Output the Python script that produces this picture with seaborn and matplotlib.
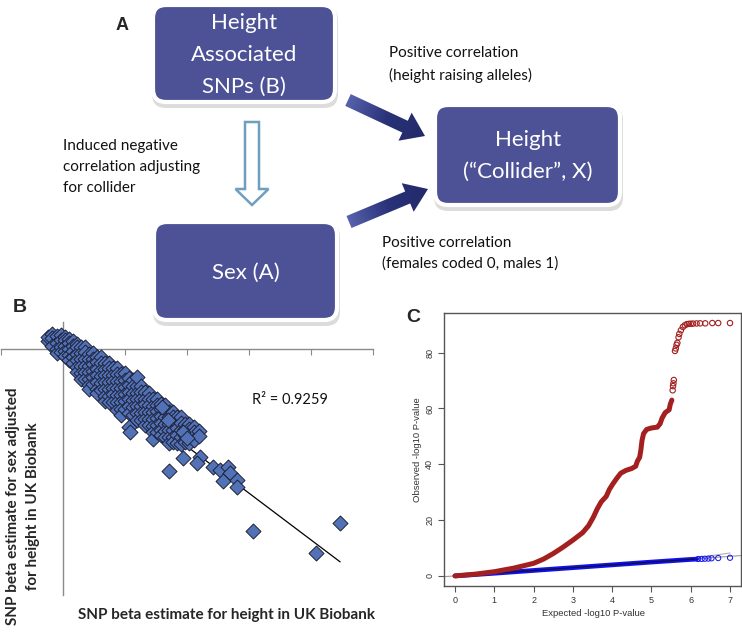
import numpy as np
import matplotlib
matplotlib.use("Agg")
import matplotlib.pyplot as plt
import seaborn as sns
from matplotlib.patches import FancyBboxPatch, FancyArrow
from matplotlib.colors import LinearSegmentedColormap

# ---------------- data ----------------
# Panel B: SNP beta estimates (units of 0.001)
band_x = [-2.4, -1.8, -1.0, -0.3, 0.3, 1.0, 1.6, 2.3, 2.9, 3.5, 4.2, 4.8, 5.5, 6.1, 6.8,
          7.4, 8.1, 8.7, 9.4, 10.0, 10.6, 11.3, 11.9, 12.6, 13.2, 13.9, 14.5, 15.2, 15.8,
          16.5, 17.1, 17.7, 18.4, 19.0, 19.7, 20.3, 21.1, 21.9]
band_y = [[1.3, 2.0], [2.4, 1.8, 0.6], [2.1, 1.0, 0.0, -0.6], [2.3, 1.5, 0.3, -0.5],
          [2.0, 1.5, 0.6, -0.3, -1.1], [1.6, 1.0, 0.0, -1.0, -1.8],
          [1.3, 0.6, -0.3, -1.3, -2.3], [0.9, 0.3, -0.8, -1.8, -2.9, -3.6],
          [0.3, -0.6, -1.5, -2.7, -3.8, -4.8], [0.4, -0.5, -1.6, -2.7, -3.7, -4.8],
          [-0.7, -1.6, -2.7, -3.7, -4.8, -5.8, -6.5], [-0.6, -1.5, -2.4, -3.5, -4.5, -5.6],
          [-1.2, -2.1, -3.2, -4.2, -5.3, -6.4, -7.1], [-1.3, -2.3, -3.4, -4.4, -5.5, -6.6],
          [-2.3, -3.2, -4.2, -5.3, -6.5, -7.6, -8.4], [-2.2, -3.1, -4.2, -5.3, -6.5, -7.6, -8.6],
          [-3.0, -4.1, -5.1, -6.2, -7.3, -8.5], [-3.0, -4.0, -5.2, -6.3, -7.4, -8.6, -9.8],
          [-4.0, -5.1, -6.2, -7.4, -8.5, -9.6, -10.7], [-3.9, -5.0, -6.1, -7.3, -8.4, -9.6],
          [-4.7, -5.8, -6.9, -8.0, -9.2, -10.3, -12.6], [-4.9, -6.0, -7.1, -8.2, -9.4, -10.6],
          [-5.9, -7.0, -8.1, -9.2, -10.3, -11.5, -4.5], [-6.0, -6.9, -8.1, -9.2, -10.3, -11.5],
          [-6.9, -8.0, -8.9, -10.1, -11.2, -12.3], [-7.0, -8.1, -9.0, -10.2, -11.3, -12.3],
          [-8.1, -9.1, -10.1, -11.2, -12.4, -13.4, -14.5],
          [-8.0, -9.0, -10.0, -11.1, -12.3, -13.3],
          [-8.8, -9.7, -10.8, -11.9, -13.0, -13.9], [-9.0, -10.0, -11.0, -12.1, -13.2, -14.1],
          [-10.1, -11.0, -12.0, -13.1, -14.2, -15.1, -19.7],
          [-10.1, -11.0, -11.9, -13.1, -14.2, -15.0], [-11.0, -11.9, -12.8, -13.9, -15.1],
          [-11.0, -11.9, -13.1, -14.2, -15.3], [-12.0, -12.9, -13.9, -15.0],
          [-12.0, -12.9, -14.0, -15.2], [-12.6, -13.4, -14.7], [-13.2, -14.0]]
sparse_x = [16.0, 10.8, 16.9, 19.4, 20.0, 19.4, 22.1, 21.6, 24.2, 25.3, 26.6, 26.9, 25.8,
            28.1, 28.1, 30.6, 40.8, 44.7]
sparse_y = [-9.4, -13.4, -11.5, -13.4, -14.4, -17.6, -17.4, -18.4, -19.0, -19.5, -19.0,
            -20.0, -21.3, -21.1, -22.3, -29.4, -32.9, -28.1]
fit_slope = -0.755
fit_intercept = -0.6
r2_text = "R\u00b2 = 0.9259"
b_xticks = [-10, 0, 10, 20, 30, 40, 50]

# Panel C: QQ plot (expected vs observed -log10 P)
red_exp = [0.0, 0.5, 1.0, 1.5, 2.0, 2.25, 2.5, 2.75, 3.0, 3.25, 3.4, 3.52, 3.62, 3.72, 3.85,
           3.93, 4.02, 4.12, 4.22, 4.35, 4.5, 4.6, 4.64, 4.7, 4.73, 4.76, 4.8, 4.88, 5.0,
           5.15, 5.22, 5.27, 5.35, 5.45, 5.48, 5.52]
red_obs = [0.0, 0.6, 1.5, 2.8, 4.5, 6.0, 8.0, 10.3, 12.8, 15.5, 18.0, 21.0, 24.0, 26.5, 28.5,
           31.0, 33.0, 35.0, 36.8, 37.8, 38.5, 39.3, 41.0, 42.5, 45.0, 48.5, 51.0, 52.5, 53.0,
           53.3, 54.5, 56.5, 58.5, 59.5, 61.5, 63.0]
red_tail_exp = [5.54, 5.55, 5.56, 5.57, 5.60, 5.62, 5.64, 5.66, 5.69, 5.71, 5.75, 5.80, 5.85,
                5.90, 5.95, 6.00, 6.06, 6.15, 6.24, 6.37, 6.55, 6.70, 7.00]
red_tail_obs = [66.5, 68.0, 69.0, 70.2, 80.6, 81.5, 82.8, 83.5, 85.5, 86.7, 88.0, 89.2, 89.8,
                90.2, 90.3, 90.35, 90.4, 90.45, 90.5, 90.5, 90.6, 90.6, 90.6]
blue_exp = [0.0, 1.0, 2.0, 3.0, 4.0, 5.0, 6.0, 6.15]
blue_obs = [0.0, 0.95, 1.95, 2.95, 3.95, 4.95, 5.9, 6.0]
blue_tail_exp = [6.19, 6.28, 6.36, 6.45, 6.53, 6.70, 7.00]
blue_tail_obs = [6.05, 6.1, 6.15, 6.2, 6.3, 6.4, 6.5]
ci_exp = [5.5, 6.2, 7.0]
ci_obs = [5.6, 6.6, 8.2]
c_xticks = [0, 1, 2, 3, 4, 5, 6, 7]
c_yticks = [0, 20, 40, 60, 80]

# ---------------- style ----------------
sns.set_style("white")
plt.rcParams["font.family"] = ["Lato", "DejaVu Sans"]

W, H = 742, 634
fig = plt.figure(figsize=(W / 100, H / 100), dpi=100)


def rect(l, t, r, b):
    return [l / W, 1 - b / H, (r - l) / W, (b - t) / H]


# ---------------- Panel A (diagram) ----------------
ax0 = fig.add_axes([0, 0, 1, 1], zorder=0)
ax0.set_xlim(0, W)
ax0.set_ylim(H, 0)
ax0.axis("off")

box_fc = "#4D5296"


def box(l, t, r, b):
    sh = FancyBboxPatch((l - 1, t + 1), r - l + 4, b - t + 5,
                        boxstyle="round,pad=0,rounding_size=14",
                        fc="#d4d4d4", ec="none", alpha=0.8, zorder=1)
    ax0.add_patch(sh)
    p = FancyBboxPatch((l, t), r - l, b - t, boxstyle="round,pad=0,rounding_size=13",
                       fc=box_fc, ec="white", lw=3, zorder=2)
    ax0.add_patch(p)


box(153, 5, 335, 102)
box(435, 105, 620, 205)
box(154, 222, 337, 320)

bt = dict(color="white", fontsize=16, ha="center", va="center", zorder=5)
ax0.text(244, 23, "Height", **bt)
ax0.text(244, 55, "Associated", **bt)
ax0.text(244, 87, "SNPs (B)", **bt)
ax0.text(528, 140, "Height", **bt)
ax0.text(528, 172, "(\u201cCollider\u201d, X)", **bt)
ax0.text(246, 273, "Sex (A)", **bt)

tt = dict(color="#111111", fontsize=11, ha="left", va="center", zorder=5)
ax0.text(63, 146, "Induced negative", **tt)
ax0.text(63, 167, "correlation adjusting", **tt)
ax0.text(63, 188, "for collider", **tt)
ax0.text(389, 53, "Positive correlation", **tt)
ax0.text(389, 75, "(height raising alleles)", **tt)
ax0.text(382, 243, "Positive correlation", **tt)
ax0.text(382, 264, "(females coded 0, males 1)", **tt)

ax0.text(122, 25, "A", fontsize=13, fontweight="bold", family="Liberation Sans",
         ha="center", va="center")
ax0.text(20, 307, "B", fontsize=14, fontweight="bold", family="Liberation Sans",
         ha="center", va="center")
ax0.text(413, 317, "C", fontsize=14, fontweight="bold", family="Liberation Sans",
         ha="center", va="center")

# hollow arrow
ax0.add_patch(FancyArrow(252, 122, 0, 83, width=14, head_width=33, head_length=16,
                         length_includes_head=True, fc="white", ec="#6F9FBF", lw=1.8,
                         zorder=3))

cmap = LinearSegmentedColormap.from_list("arr", ["#5662AD", "#2A3278", "#222A6A"])


def grad_arrow(x, y, dx, dy):
    arr = FancyArrow(x, y, dx, dy, width=13, head_width=31, head_length=22,
                     length_includes_head=True, fc="none", ec="none", zorder=3)
    ax0.add_patch(arr)
    v = arr.get_xy()
    x0, x1, y0, y1 = v[:, 0].min(), v[:, 0].max(), v[:, 1].min(), v[:, 1].max()
    gx, gy = np.meshgrid(np.linspace(x0, x1, 120), np.linspace(y0, y1, 120))
    t = ((gx - x) * dx + (gy - y) * dy) / (dx * dx + dy * dy)
    im = ax0.imshow(t, extent=(x0, x1, y0, y1), origin="lower", cmap=cmap, vmin=0,
                    vmax=1, aspect="auto", zorder=3, interpolation="bilinear")
    im.set_clip_path(arr)


grad_arrow(348, 100, 77, 36)
grad_arrow(349, 222, 79, -33)
ax0.set_xlim(0, W)
ax0.set_ylim(H, 0)

# ---------------- Panel B ----------------
beta_height = [x for x, ys in zip(band_x, band_y) for _ in ys] + sparse_x
beta_adjusted = [y for ys in band_y for y in ys] + sparse_y

axB = fig.add_axes(rect(1, 322, 373, 595), zorder=2)
axB.set_facecolor("none")
fx = np.array([min(beta_height), max(beta_height)])
sns.lineplot(x=fx, y=fit_intercept + fit_slope * fx, color="black", lw=0.9, ax=axB,
             zorder=2)
sns.scatterplot(x=beta_height, y=beta_adjusted, marker="D", s=58, color="#5272B8",
                edgecolor="#1e2035", linewidth=0.7, ax=axB, zorder=3)
axB.set_xlim(-10, 50)
axB.set_ylim(-39.7, 4.4)
for s in ["top", "right"]:
    axB.spines[s].set_visible(False)
axB.spines["left"].set_position(("data", 0))
axB.spines["bottom"].set_position(("data", 0))
for s in ["left", "bottom"]:
    axB.spines[s].set_color("#8a8a8a")
    axB.spines[s].set_linewidth(1.0)
axB.set_xticks(b_xticks)
axB.set_yticks([])
axB.tick_params(axis="x", direction="out", length=4, color="#8a8a8a", labelbottom=False,
                bottom=True)
axB.set_xlabel("")
axB.set_ylabel("")
axB.text(252, 400, r2_text, transform=ax0.transData, fontsize=10.5, ha="left",
         va="center", color="#111111")
ax0.text(226, 615, "SNP beta estimate for height in UK Biobank", fontsize=11,
         fontweight="bold", ha="center", va="center", zorder=5)
ax0.text(13, 506, "SNP beta estimate for sex adjusted", fontsize=11, fontweight="bold",
         ha="center", va="center", rotation=90, zorder=5)
ax0.text(33, 506, "for height in UK Biobank", fontsize=11, fontweight="bold",
         ha="center", va="center", rotation=90, zorder=5)

# ---------------- Panel C ----------------
red = "#A3201F"
blue = "#1010F0"
axC = fig.add_axes(rect(444, 313, 741, 586), zorder=2)
axC.plot([-0.5, 7.5], [-0.5, 7.5], color="#9a9a9a", lw=0.8, zorder=1)
sns.lineplot(x=ci_exp, y=ci_obs, sort=False, estimator=None, color="#b0b0b0", lw=0.8,
             ax=axC, zorder=1)
sns.lineplot(x=blue_exp, y=blue_obs, sort=False, estimator=None, color=blue, lw=3.4,
             ax=axC, zorder=2)
sns.lineplot(x=blue_exp, y=blue_obs, sort=False, estimator=None, color="#111133", lw=0.9,
             ax=axC, zorder=3)
sns.scatterplot(x=blue_tail_exp, y=blue_tail_obs, marker="o", s=14, facecolors="none",
                edgecolor=blue, linewidth=0.7, ax=axC, zorder=3)
sns.lineplot(x=red_exp, y=red_obs, sort=False, estimator=None, color=red, lw=3.6,
             ax=axC, zorder=4, solid_capstyle="round")
sns.scatterplot(x=red_tail_exp, y=red_tail_obs, marker="o", s=15, facecolors="none",
                edgecolor=red, linewidth=0.8, ax=axC, zorder=4)
axC.set_xlim(-0.28, 7.28)
axC.set_ylim(-3.62, 94.2)
axC.set_xticks(c_xticks)
axC.set_yticks(c_yticks)
for s in axC.spines.values():
    s.set_visible(True)
    s.set_color("#555555")
    s.set_linewidth(1.0)
axC.tick_params(direction="out", length=4, width=0.8, color="#555555", labelsize=6.5,
                labelcolor="#333333", pad=3, left=True, bottom=True)
for lab in axC.get_xticklabels() + axC.get_yticklabels():
    lab.set_family("Liberation Sans")
for lab in axC.get_yticklabels():
    lab.set_rotation(90)
    lab.set_va("center")
axC.set_xlabel("")
axC.set_ylabel("")
ax0.text(593, 613, "Expected -log10 P-value", fontsize=6.8, family="Liberation Sans",
         color="#333333", ha="center", va="center")
ax0.text(418, 450, "Observed -log10 P-value", fontsize=6.8, family="Liberation Sans",
         color="#333333", ha="center", va="center", rotation=90)

fig.savefig("out.png", dpi=100)
